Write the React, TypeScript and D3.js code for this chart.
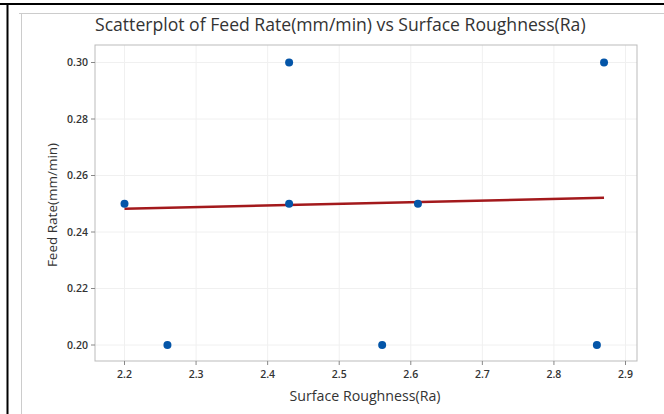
import React from "react";
import * as d3 from "d3";

const roughness = [2.2, 2.26, 2.43, 2.43, 2.56, 2.61, 2.86, 2.87];
const feedRate = [0.25, 0.2, 0.3, 0.25, 0.2, 0.25, 0.2, 0.3];
const fitX = [2.2, 2.87];
const fitY = [0.2482, 0.2521];
const xTicks = [2.2, 2.3, 2.4, 2.5, 2.6, 2.7, 2.8, 2.9];
const yTicks = [0.2, 0.22, 0.24, 0.26, 0.28, 0.3];

const W = 664, H = 414;
const L = 95, R = 637, T = 45, B = 361;
const FONT = "'Open Sans', 'Noto Sans', sans-serif";

export default function App() {
  const x = d3.scaleLinear().domain([2.2, 2.9]).range([124.5, 625.5]);
  const y = d3.scaleLinear().domain([0.2, 0.3]).range([345, 62.5]);
  const line = d3.line<number>().x((d, i) => x(fitX[i])).y((d, i) => y(fitY[i]));
  return (
    <svg width={W} height={H} style={{ position: "absolute", left: 0, top: 0, background: "#fff" }}>
      <rect x={0} y={0} width={W} height={H} fill="#fff" />
      <line x1={0} x2={W} y1={4} y2={4} stroke="#000" strokeWidth={2} />
      <line x1={7.5} x2={7.5} y1={3} y2={H} stroke="#000" strokeWidth={2} />
      <line x1={19} x2={W} y1={13.5} y2={13.5} stroke="#ccc" strokeWidth={1} />
      <line x1={21.5} x2={21.5} y1={13} y2={H} stroke="#ccc" strokeWidth={1} />
      <text x={95} y={31} fontFamily={FONT} fontSize={17.6} fill="#333">
        Scatterplot of Feed Rate(mm/min) vs Surface Roughness(Ra)
      </text>
      {xTicks.map((t) => (
        <line key={"gx" + t} x1={x(t)} x2={x(t)} y1={T} y2={B} stroke="#f0f0f0" />
      ))}
      {yTicks.map((t) => (
        <line key={"gy" + t} x1={L} x2={R} y1={y(t)} y2={y(t)} stroke="#f0f0f0" />
      ))}
      <rect x={L} y={T} width={R - L} height={B - T} fill="none" stroke="#bbb" />
      {xTicks.map((t) => (
        <g key={"tx" + t}>
          <line x1={x(t)} x2={x(t)} y1={B} y2={B + 4} stroke="#888" />
          <text x={x(t)} y={378} textAnchor="middle" fontFamily={FONT} fontSize={10.5} fill="#333" fontWeight={600}>
            {d3.format(".1f")(t)}
          </text>
        </g>
      ))}
      {yTicks.map((t) => (
        <g key={"ty" + t}>
          <line x1={L - 4} x2={L} y1={y(t)} y2={y(t)} stroke="#888" />
          <text x={88} y={y(t) + 3.8} textAnchor="end" fontFamily={FONT} fontSize={10.5} fill="#333" fontWeight={600}>
            {d3.format(".2f")(t)}
          </text>
        </g>
      ))}
      <path d={line(fitX) || ""} stroke="#a3191c" strokeWidth={2.5} fill="none" />
      {roughness.map((r, i) => (
        <circle key={i} cx={x(r)} cy={y(feedRate[i])} r={4} fill="#0455a8" />
      ))}
      <text x={365} y={401} textAnchor="middle" fontFamily={FONT} fontSize={14.2} fill="#333">
        Surface Roughness(Ra)
      </text>
      <text transform={`translate(57,205) rotate(-90)`} textAnchor="middle" fontFamily={FONT} fontSize={13.5} fill="#333">
        Feed Rate(mm/min)
      </text>
    </svg>
  );
}
